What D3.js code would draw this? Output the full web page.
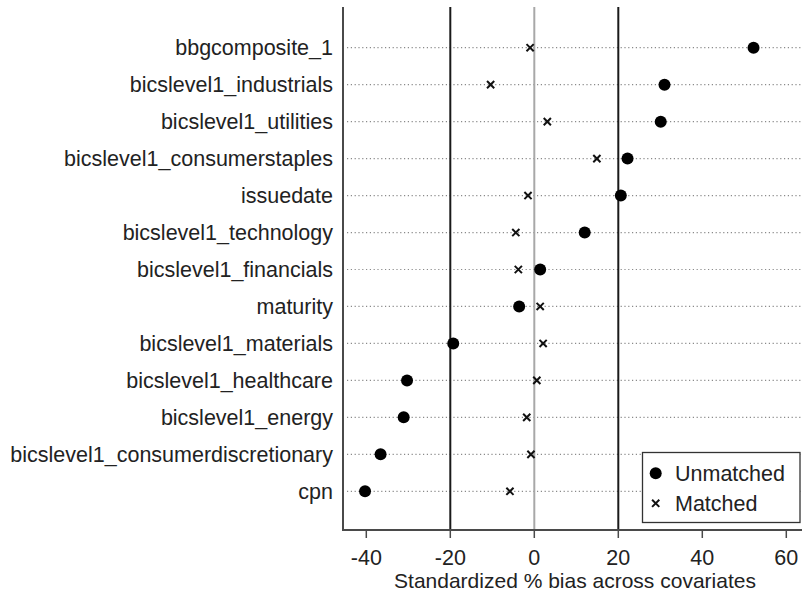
<!DOCTYPE html>
<html><head><meta charset="utf-8">
<script src="https://cdn.jsdelivr.net/npm/d3@7"></script>
<style>html,body{margin:0;padding:0;background:#fff;} svg{display:block;font-family:Arial,"Liberation Sans",sans-serif;}</style>
</head><body>
<svg id="c" width="802" height="594"></svg>
<script>
const covariates = ["bbgcomposite_1","bicslevel1_industrials","bicslevel1_utilities","bicslevel1_consumerstaples","issuedate","bicslevel1_technology","bicslevel1_financials","maturity","bicslevel1_materials","bicslevel1_healthcare","bicslevel1_energy","bicslevel1_consumerdiscretionary","cpn"];
const unmatched = [52.2,31.0,30.1,22.2,20.6,12.0,1.4,-3.6,-19.3,-30.3,-31.1,-36.6,-40.3];
const matched = [-1.0,-10.4,3.1,14.9,-1.5,-4.4,-3.8,1.4,2.1,0.6,-1.8,-0.8,-5.8];
const xTicks = [-40,-20,0,20,40,60];
const refLines = [-20,0,20];
const seriesNames = ["Unmatched","Matched"];
const xTitle = "Standardized % bias across covariates";

const svg = d3.select("#c");
const plotLeft = 343, plotRight = 802, plotTop = 7, plotBottom = 530;
const FS = 21.5;
const x = d3.scaleLinear().domain([-40,60]).range([366.3,786.3]);
const y = d3.scalePoint().domain(covariates).range([47.7,491.3]);

// dotted gridlines
svg.append("g").selectAll("line").data(covariates).join("line")
  .attr("x1", plotLeft+4).attr("x2", plotRight)
  .attr("y1", d=>y(d)).attr("y2", d=>y(d))
  .attr("stroke","#8a8a8a").attr("stroke-width",1.2).attr("stroke-dasharray","1.2,2.6");

// reference lines
svg.append("g").selectAll("line").data(refLines).join("line")
  .attr("x1", d=>x(d)).attr("x2", d=>x(d))
  .attr("y1", plotTop).attr("y2", plotBottom)
  .attr("stroke", d=> d===0 ? "#a8a8a8" : "#1a1a1a").attr("stroke-width",2);

// axes lines
svg.append("line").attr("x1",plotLeft).attr("x2",plotLeft).attr("y1",plotTop).attr("y2",plotBottom+1)
  .attr("stroke","#4a4a4a").attr("stroke-width",2);
svg.append("line").attr("x1",plotLeft).attr("x2",plotRight).attr("y1",plotBottom).attr("y2",plotBottom)
  .attr("stroke","#4a4a4a").attr("stroke-width",2);

// x ticks
const xt = svg.append("g").selectAll("g").data(xTicks).join("g").attr("transform", d=>`translate(${x(d)},0)`);
xt.append("line").attr("y1",plotBottom).attr("y2",plotBottom+8).attr("stroke","#4a4a4a").attr("stroke-width",1.5);
xt.append("text").attr("y",564.5).attr("text-anchor","middle").attr("font-size",FS).attr("fill","#222").text(d=>d);

svg.append("text").attr("x",575).attr("y",587.5).attr("text-anchor","middle").attr("font-size",21).attr("fill","#222").text(xTitle);

// y labels
svg.append("g").selectAll("text").data(covariates).join("text")
  .attr("x",333).attr("y",d=>y(d)).attr("dy","0.35em").attr("text-anchor","end")
  .attr("font-size",FS).attr("fill","#222").text(d=>d);

// matched markers (x)
const cross = (g, cx, cy, s) => {
  g.append("path").attr("d",`M${cx-s},${cy-s}L${cx+s},${cy+s}M${cx-s},${cy+s}L${cx+s},${cy-s}`)
   .attr("stroke","#111").attr("stroke-width",2);
};
const mg = svg.append("g");
covariates.forEach((c,i)=> cross(mg, x(matched[i]), y(c), 3.6));

// unmatched dots
svg.append("g").selectAll("circle").data(covariates).join("circle")
  .attr("cx",(d,i)=>x(unmatched[i])).attr("cy",d=>y(d)).attr("r",6).attr("fill","#000");

// legend
const lg = svg.append("g");
lg.append("rect").attr("x",642.5).attr("y",452.5).attr("width",157.5).attr("height",70)
  .attr("fill","#fff").attr("stroke","#333").attr("stroke-width",1.3);
lg.append("circle").attr("cx",655.7).attr("cy",473.3).attr("r",6).attr("fill","#000");
cross(lg, 655.7, 503.3, 3.6);
lg.append("text").attr("x",675).attr("y",473.3).attr("dy","0.35em").attr("font-size",FS).attr("fill","#222").text(seriesNames[0]);
lg.append("text").attr("x",675).attr("y",503.3).attr("dy","0.35em").attr("font-size",FS).attr("fill","#222").text(seriesNames[1]);
</script>
</body></html>
